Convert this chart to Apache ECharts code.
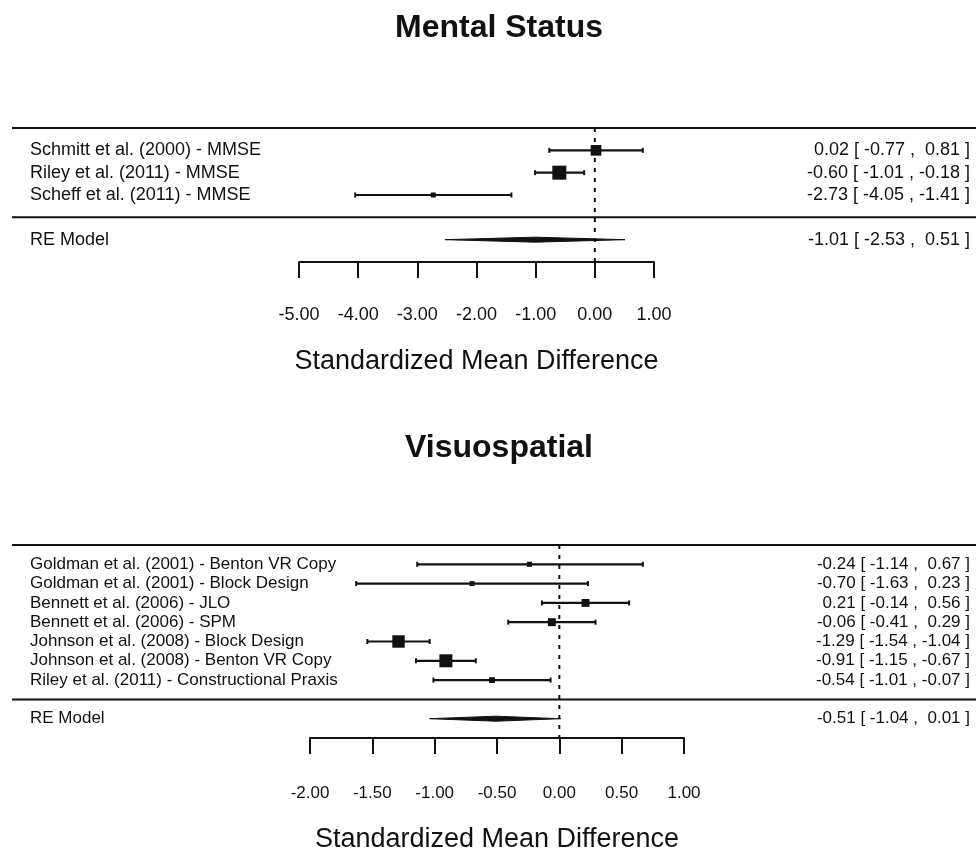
<!DOCTYPE html>
<html>
<head>
<meta charset="utf-8">
<script src="https://cdn.jsdelivr.net/npm/echarts@6/dist/echarts.min.js"></script>
<style>
  html, body { margin: 0; padding: 0; background: #ffffff; }
  #chart { width: 976px; height: 849px; }
</style>
</head>
<body>
<div id="chart"></div>
<script>
// ---- Mental Status studies ----
const msStudies = [
  'Schmitt et al. (2000) - MMSE',
  'Riley et al. (2011) - MMSE',
  'Scheff et al. (2011) - MMSE'
];
const msEstimate = [0.02, -0.60, -2.73];
const msLower    = [-0.77, -1.01, -4.05];
const msUpper    = [0.81, -0.18, -1.41];
const msWeight   = [37, 53, 10];
const msPooled   = [-1.01, -2.53, 0.51];   // estimate, lower, upper
const msTicks    = [-5, -4, -3, -2, -1, 0, 1];

// ---- Visuospatial studies ----
const vsStudies = [
  'Goldman et al. (2001) - Benton VR Copy',
  'Goldman et al. (2001) - Block Design',
  'Bennett et al. (2006) - JLO',
  'Bennett et al. (2006) - SPM',
  'Johnson et al. (2008) - Block Design',
  'Johnson et al. (2008) - Benton VR Copy',
  'Riley et al. (2011) - Constructional Praxis'
];
const vsEstimate = [-0.24, -0.70, 0.21, -0.06, -1.29, -0.91, -0.54];
const vsLower    = [-1.14, -1.63, -0.14, -0.41, -1.54, -1.15, -1.01];
const vsUpper    = [0.67, 0.23, 0.56, 0.29, -1.04, -0.67, -0.07];
const vsWeight   = [4.6, 4.2, 13.5, 13.5, 27.8, 29.6, 6.8];
const vsPooled   = [-0.51, -1.04, 0.01];
const vsTicks    = [-2, -1.5, -1, -0.5, 0, 0.5, 1];

const modelLabel = 'RE Model';
const axisTitle = 'Standardized Mean Difference';
const titles = ['Mental Status', 'Visuospatial'];

const INK = '#111111';
const FONT = "'Liberation Sans', Arial, Helvetica, sans-serif";

function fmt(v) {
  const s = v.toFixed(2);
  return v >= 0 ? ' ' + s : s;
}
function annotation(est, lo, hi) {
  return fmt(est).trim() + ' [ ' + fmt(lo) + ' , ' + fmt(hi) + ' ]';
}

// layout of each panel (pixels)
const panels = [
  {
    names: msStudies, est: msEstimate, lo: msLower, hi: msUpper, w: msWeight,
    pooled: msPooled, ticks: msTicks, title: titles[0],
    grid: { left: 299, width: 355, top: 128, height: 134 },
    titleTop: 12, fontSize: 18, tickFont: 18, labelMargin: 44, nameGap: 86,
    minBox: 5, maxBox: 14
  },
  {
    names: vsStudies, est: vsEstimate, lo: vsLower, hi: vsUpper, w: vsWeight,
    pooled: vsPooled, ticks: vsTicks, title: titles[1],
    grid: { left: 310, width: 374, top: 545, height: 193 },
    titleTop: 432, fontSize: 17, tickFont: 17, labelMargin: 47, nameGap: 88,
    minBox: 5, maxBox: 13
  }
];

const option = {
  backgroundColor: '#ffffff',
  animation: false,
  title: [],
  grid: [],
  xAxis: [],
  yAxis: [],
  series: []
};

panels.forEach((p, k) => {
  const n = p.names.length;
  const topRow = n + 1;
  const bottomRow = -2;
  const ticks = p.ticks;

  option.title.push({
    text: p.title,
    left: 499,
    top: p.titleTop,
    textAlign: 'center',
    padding: 0,
    textStyle: { fontFamily: FONT, fontSize: 32, fontWeight: 'bold', color: INK }
  });

  option.grid.push(Object.assign({ containLabel: false, outerBoundsMode: 'none', show: false }, p.grid));

  option.xAxis.push({
    type: 'value',
    gridIndex: k,
    min: ticks[0],
    max: ticks[ticks.length - 1],
    interval: ticks[1] - ticks[0],
    name: axisTitle,
    nameLocation: 'middle',
    nameGap: p.nameGap,
    nameTextStyle: { fontFamily: FONT, fontSize: 27, color: INK },
    axisLine: { show: true, onZero: false, lineStyle: { color: INK, width: 2 } },
    axisTick: { show: true, inside: false, length: 16, lineStyle: { color: INK, width: 2 } },
    axisLabel: {
      show: true, margin: p.labelMargin, color: INK, fontFamily: FONT, fontSize: p.tickFont,
      showMinLabel: true, showMaxLabel: true, hideOverlap: false,
      formatter: v => v.toFixed(2)
    },
    splitLine: { show: false }
  });

  option.yAxis.push({
    type: 'value', gridIndex: k, min: bottomRow, max: topRow, show: false,
    splitLine: { show: false }
  });

  const wMin = Math.min(...p.w), wMax = Math.max(...p.w);

  // horizontal rules: above the studies and between studies and the pooled estimate
  option.series.push({
    type: 'custom', xAxisIndex: k, yAxisIndex: k, clip: false, silent: true,
    data: [[0, topRow], [0, 0]],
    renderItem: (params, api) => {
      const y = api.coord([0, api.value(1)])[1];
      return {
        type: 'line',
        shape: { x1: 12, y1: y, x2: api.getWidth(), y2: y },
        style: { stroke: INK, lineWidth: 2 }
      };
    }
  });

  // dotted line of no effect
  option.series.push({
    type: 'custom', xAxisIndex: k, yAxisIndex: k, clip: false, silent: true,
    data: [[0]],
    renderItem: (params, api) => {
      const a = api.coord([api.value(0), topRow]);
      const b = api.coord([api.value(0), bottomRow]);
      return {
        type: 'line',
        shape: { x1: a[0], y1: a[1], x2: b[0], y2: b[1] },
        style: { stroke: INK, lineWidth: 2, lineDash: [4, 6] }
      };
    }
  });

  // individual studies: confidence interval, weighted square, labels
  const rows = p.names.map((name, i) => [p.est[i], p.lo[i], p.hi[i], n - i, p.w[i]]);
  option.series.push({
    type: 'custom', xAxisIndex: k, yAxisIndex: k, clip: false, silent: true,
    data: rows,
    encode: { x: [0, 1, 2], y: 3 },
    renderItem: (params, api) => {
      const i = params.dataIndex;
      const est = api.value(0), lo = api.value(1), hi = api.value(2), row = api.value(3), w = api.value(4);
      const pe = api.coord([est, row]);
      const pl = api.coord([lo, row]);
      const ph = api.coord([hi, row]);
      const y = pe[1];
      const size = p.minBox + (p.maxBox - p.minBox) * (w - wMin) / (wMax - wMin);
      const cap = 2.5;
      return {
        type: 'group',
        children: [
          { type: 'line', shape: { x1: pl[0], y1: y, x2: ph[0], y2: y }, style: { stroke: INK, lineWidth: 2.2 } },
          { type: 'line', shape: { x1: pl[0], y1: y - cap, x2: pl[0], y2: y + cap }, style: { stroke: INK, lineWidth: 2 } },
          { type: 'line', shape: { x1: ph[0], y1: y - cap, x2: ph[0], y2: y + cap }, style: { stroke: INK, lineWidth: 2 } },
          { type: 'rect', shape: { x: pe[0] - size / 2, y: y - size / 2, width: size, height: size }, style: { fill: INK } },
          { type: 'text', x: 30, y: y, style: {
              text: p.names[i], fill: INK, font: p.fontSize + 'px ' + FONT, align: 'left', verticalAlign: 'middle' } },
          { type: 'text', x: api.getWidth() - 6, y: y, style: {
              text: annotation(est, lo, hi), fill: INK, font: p.fontSize + 'px ' + FONT, align: 'right', verticalAlign: 'middle' } }
        ]
      };
    }
  });

  // pooled random-effects estimate as a polygon
  option.series.push({
    type: 'custom', xAxisIndex: k, yAxisIndex: k, clip: false, silent: true,
    data: [[p.pooled[0], p.pooled[1], p.pooled[2], -1]],
    encode: { x: [0, 1, 2], y: 3 },
    renderItem: (params, api) => {
      const est = api.value(0), lo = api.value(1), hi = api.value(2), row = api.value(3);
      const pe = api.coord([est, row]);
      const pl = api.coord([lo, row]);
      const ph = api.coord([hi, row]);
      const y = pe[1];
      const h = 2.5;
      return {
        type: 'group',
        children: [
          { type: 'polygon', shape: { points: [[pl[0], y], [pe[0], y - h], [ph[0], y], [pe[0], y + h]] },
            style: { fill: INK, stroke: INK, lineWidth: 1 } },
          { type: 'text', x: 30, y: y, style: {
              text: modelLabel, fill: INK, font: p.fontSize + 'px ' + FONT, align: 'left', verticalAlign: 'middle' } },
          { type: 'text', x: api.getWidth() - 6, y: y, style: {
              text: annotation(est, lo, hi), fill: INK, font: p.fontSize + 'px ' + FONT, align: 'right', verticalAlign: 'middle' } }
        ]
      };
    }
  });
});

const chart = echarts.init(document.getElementById('chart'), null, { renderer: 'canvas' });
chart.setOption(option);
</script>
</body>
</html>
